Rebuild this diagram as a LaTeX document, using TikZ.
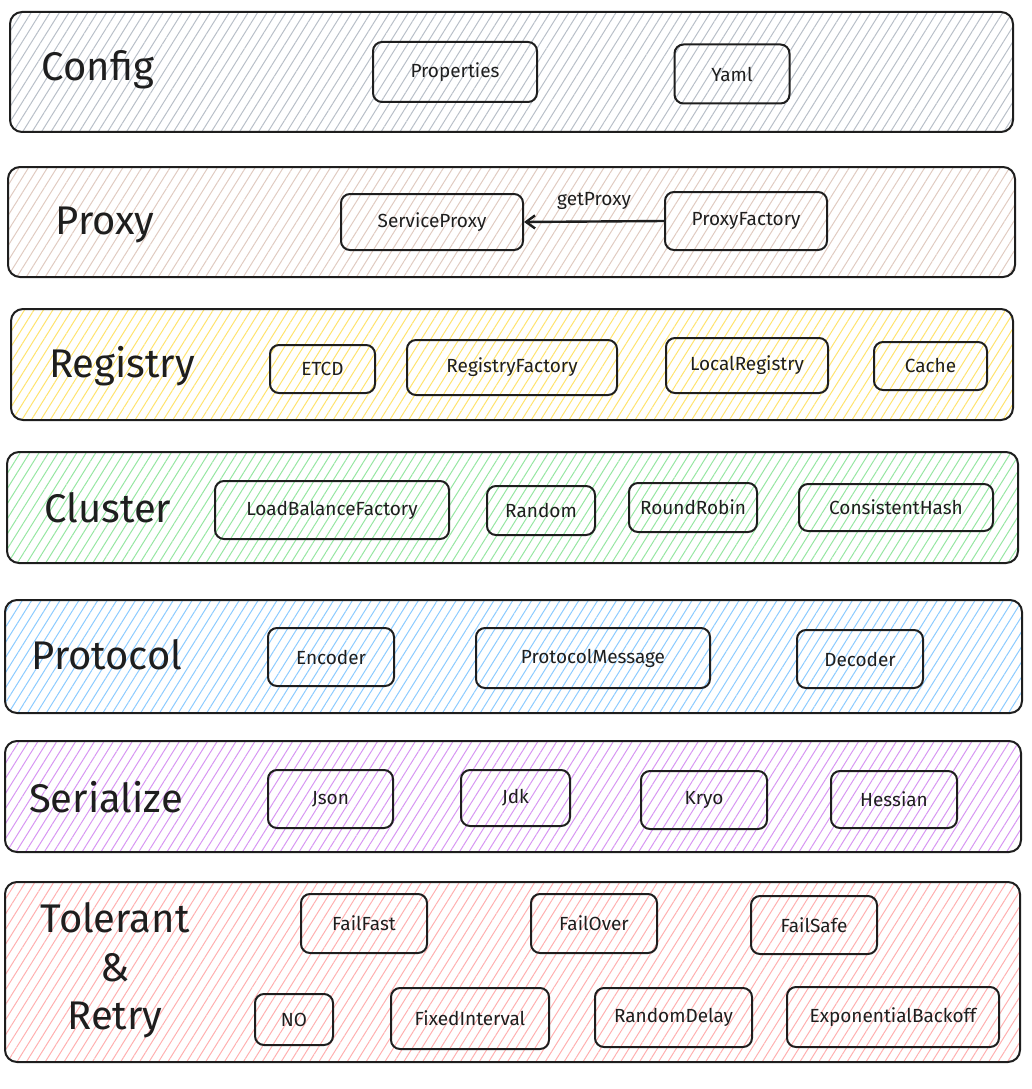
\documentclass[tikz,border=0pt]{standalone}
\usepackage{fontspec}
\setmainfont{Fira Sans}
\usetikzlibrary{patterns.meta,arrows.meta}
\definecolor{ink}{HTML}{1E1E1E}
\definecolor{cfggray}{HTML}{B8BFC8}
\definecolor{proxybrown}{HTML}{E0CBC1}
\definecolor{regyellow}{HTML}{FFE36E}
\definecolor{clugreen}{HTML}{96E6A2}
\definecolor{protoblue}{HTML}{8CCBFF}
\definecolor{serpurple}{HTML}{D796F2}
\definecolor{tolred}{HTML}{FFB0B0}
\tikzset{
  layer/.style={draw=ink, line width=2pt, rounded corners=12pt,
    pattern={Lines[angle=58,distance=8pt,line width=1pt]}, pattern color=#1},
  layertitle/.style={text=ink, font=\fontsize{40}{44}\selectfont},
  comp/.style={draw=ink, line width=2pt, rounded corners=9pt, text=ink,
    font=\fontsize{19}{22}\selectfont, inner sep=0pt}
}
\begin{document}
\begin{tikzpicture}[x=1pt, y=-1pt]
  \useasboundingbox (0,0) rectangle (1031,1089);
  % Config
  \node[layer=cfggray, minimum width=1003, minimum height=120] (config) at (511.5,72) {};
  \node[layertitle] (configT) at (98,70) {Config};
  \node[comp, minimum width=164, minimum height=60] (props) at (455,72) {Properties};
  \node[comp, minimum width=115, minimum height=59] (yaml) at (732,74) {Yaml};
  % Proxy
  \node[layer=proxybrown, minimum width=1007, minimum height=110] (proxy) at (511.5,222) {};
  \node[layertitle] (proxyT) at (105,225) {Proxy};
  \node[comp, minimum width=182, minimum height=56] (sproxy) at (432,222) {ServiceProxy};
  \node[comp, minimum width=162, minimum height=58] (pfactory) at (746,221) {ProxyFactory};
  \draw[ink, line width=2.4pt, -{Straight Barb[length=9pt,width=13pt]}] (pfactory.west) -- (sproxy.east)
    node[midway, above=7pt, font=\fontsize{19}{22}\selectfont] (getp) {getProxy};
  % Registry
  \node[layer=regyellow, minimum width=1002, minimum height=111] (registry) at (512,364.5) {};
  \node[layertitle] (registryT) at (122,366) {Registry};
  \node[comp, minimum width=105, minimum height=48] (etcd) at (322.5,369) {ETCD};
  \node[comp, minimum width=210, minimum height=55] (rfactory) at (512,367.5) {RegistryFactory};
  \node[comp, minimum width=162, minimum height=55] (local) at (747,365.5) {LocalRegistry};
  \node[comp, minimum width=113, minimum height=48] (cache) at (930.5,366) {Cache};
  % Cluster
  \node[layer=clugreen, minimum width=1011, minimum height=111] (cluster) at (512.5,507.5) {};
  \node[layertitle] (clusterT) at (108,508) {Cluster};
  \node[comp, minimum width=234, minimum height=58] (lbfactory) at (332,510) {LoadBalanceFactory};
  \node[comp, minimum width=108, minimum height=49] (random) at (541,510.5) {Random};
  \node[comp, minimum width=128, minimum height=49] (rr) at (693,507.5) {RoundRobin};
  \node[comp, minimum width=194, minimum height=47] (chash) at (896,507.5) {ConsistentHash};
  % Protocol
  \node[layer=protoblue, minimum width=1017, minimum height=113] (protocol) at (513.5,656.5) {};
  \node[layertitle] (protocolT) at (107,655) {Protocol};
  \node[comp, minimum width=126, minimum height=58] (encoder) at (331,657) {Encoder};
  \node[comp, minimum width=234, minimum height=60] (pmsg) at (593,658) {ProtocolMessage};
  \node[comp, minimum width=126, minimum height=58] (decoder) at (860,659) {Decoder};
  % Serialize
  \node[layer=serpurple, minimum width=1016, minimum height=111] (serialize) at (513,796.5) {};
  \node[layertitle] (serializeT) at (106,797) {Serialize};
  \node[comp, minimum width=125, minimum height=58] (json) at (330.5,799) {Json};
  \node[comp, minimum width=109, minimum height=56] (jdk) at (515.5,798) {Jdk};
  \node[comp, minimum width=126, minimum height=58] (kryo) at (704,800) {Kryo};
  \node[comp, minimum width=126, minimum height=57] (hessian) at (894,799.5) {Hessian};
  % Tolerant & Retry
  \node[layer=tolred, minimum width=1015, minimum height=180] (tolerant) at (512.5,972) {};
  \node[layertitle] (tolerantT) at (115,918) {Tolerant};
  \node[layertitle] (ampT) at (115,968) {\&};
  \node[layertitle] (retryT) at (115,1020) {Retry};
  \node[comp, minimum width=126, minimum height=59] (ffast) at (364,923.5) {FailFast};
  \node[comp, minimum width=126, minimum height=59] (fover) at (594,923.5) {FailOver};
  \node[comp, minimum width=126, minimum height=58] (fsafe) at (814,925) {FailSafe};
  \node[comp, minimum width=78, minimum height=51] (noretry) at (294,1019.5) {NO};
  \node[comp, minimum width=158, minimum height=61] (fixed) at (470,1018.5) {FixedInterval};
  \node[comp, minimum width=157, minimum height=59] (rdelay) at (673.5,1017.5) {RandomDelay};
  \node[comp, minimum width=212, minimum height=60] (expo) at (893,1017) {ExponentialBackoff};
\end{tikzpicture}
\end{document}
